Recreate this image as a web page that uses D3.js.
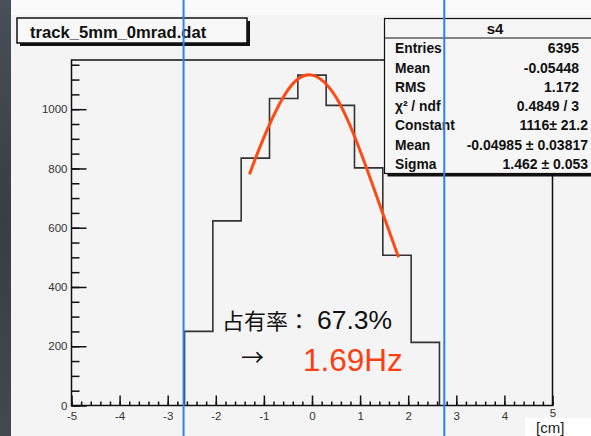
<!DOCTYPE html>
<html>
<head>
<meta charset="utf-8">
<script src="https://cdn.jsdelivr.net/npm/d3@7"></script>
<style>
    body { margin: 0; background: #f4f4f4; overflow: hidden; }
    svg { display: block; }
</style>
</head>
<body>
<script>
    // Histogram data (bin edges from -2.65 to 2.65, 9 bins)
    var binLow = -2.65, binHigh = 2.65;
    var binCounts = [250, 623, 835, 1036, 1115, 1013, 802, 507, 213];

    // Fit curve points
    var fitX = [-1.3, -1.0, -0.5, 0, 0.5, 1.0, 1.5, 1.8];
    var fitY = [780, 905, 1065, 1115, 1040, 860, 635, 500];

    // Vertical marker lines
    var markerX = [-2.67, 2.75];

    // Tick values
    var xTicks = [-5, -4, -3, -2, -1, 0, 1, 2, 3, 4, 5];
    var yTicks = [0, 200, 400, 600, 800, 1000];

    // Stats box rows
    var statLabels = ['Entries', 'Mean', 'RMS', 'χ² / ndf', 'Constant', 'Mean', 'Sigma'];
    var statValues = ['6395', '-0.05448', '1.172', '0.4849 / 3', '1116± 21.2', '-0.04985 ± 0.03817', '1.462 ± 0.053'];

    var width = 591, height = 436;
    var frameLeft = 71.5, frameRight = 552.5, frameTop = 60, frameBottom = 405.5;
    var sans = '"Liberation Sans", Arial, sans-serif';

    var svg = d3.select('body')
        .append('svg')
        .attr('width', width)
        .attr('height', height);

    // Background
    svg.append('rect').attr('width', width).attr('height', height).attr('fill', '#f4f4f4');
    svg.append('rect').attr('x', 11).attr('width', width).attr('height', 15).attr('fill', '#fafafa');
    var grad = svg.append('defs').append('linearGradient').attr('id', 'strip')
        .attr('x1', 0).attr('y1', 0).attr('x2', 0).attr('y2', 1);
    grad.append('stop').attr('offset', 0).attr('stop-color', '#4a4e56');
    grad.append('stop').attr('offset', 0.5).attr('stop-color', '#3a3d44');
    grad.append('stop').attr('offset', 1).attr('stop-color', '#44474e');
    svg.append('rect').attr('width', 11).attr('height', height).attr('fill', 'url(#strip)');

    var x = d3.scaleLinear().domain([-5, 5]).range([frameLeft, frameRight]);
    var y = d3.scaleLinear().domain([0, 1166]).range([frameBottom, frameTop]);

    // Frame
    svg.append('rect')
        .attr('x', frameLeft).attr('y', frameTop)
        .attr('width', frameRight - frameLeft).attr('height', frameBottom - frameTop)
        .attr('fill', 'none').attr('stroke', '#111').attr('stroke-width', 1.5);

    // Histogram outline
    var binWidth = (binHigh - binLow) / binCounts.length;
    var histPts = [[binLow, 0]];
    binCounts.forEach(function (c, i) {
        histPts.push([binLow + i * binWidth, c]);
        histPts.push([binLow + (i + 1) * binWidth, c]);
    });
    histPts.push([binHigh, 0]);
    svg.append('path')
        .datum(histPts)
        .attr('d', d3.line().x(function (d) { return x(d[0]); }).y(function (d) { return y(d[1]); }))
        .attr('fill', 'none').attr('stroke', '#333').attr('stroke-width', 1.6);

    // Fit curve
    svg.append('path')
        .datum(d3.zip(fitX, fitY))
        .attr('d', d3.line().curve(d3.curveNatural)
            .x(function (d) { return x(d[0]); }).y(function (d) { return y(d[1]); }))
        .attr('fill', 'none').attr('stroke', '#ff4a14').attr('stroke-width', 3);

    // X axis major and minor ticks
    svg.append('g')
        .attr('transform', 'translate(0,' + frameBottom + ')')
        .call(d3.axisBottom(x).tickValues(d3.range(-5, 5.001, 0.2)).tickSize(-4).tickFormat(''))
        .call(function (g) { g.select('.domain').remove(); });
    var xAxis = svg.append('g')
        .attr('transform', 'translate(0,' + frameBottom + ')')
        .call(d3.axisBottom(x).tickValues(xTicks).tickSize(-10).tickPadding(6)
            .tickFormat(function (d) { return String(d); }));
    xAxis.select('.domain').remove();
    // last label sits a little higher, above the unit box
    xAxis.selectAll('.tick text').filter(function (d) { return d === 5; }).attr('y', 3);

    // Y axis major and minor ticks
    svg.append('g')
        .attr('transform', 'translate(' + frameLeft + ',0)')
        .call(d3.axisLeft(y).tickValues(d3.range(0, 1151, 50)).tickSize(-8).tickFormat(''))
        .call(function (g) { g.select('.domain').remove(); });
    var yAxis = svg.append('g')
        .attr('transform', 'translate(' + frameLeft + ',0)')
        .call(d3.axisLeft(y).tickValues(yTicks).tickSize(-15).tickPadding(4)
            .tickFormat(function (d) { return String(d); }));
    yAxis.select('.domain').remove();

    svg.selectAll('.tick line').attr('stroke', '#111').attr('stroke-width', 1.5);
    svg.selectAll('.tick text')
        .attr('fill', '#333')
        .style('font-family', sans)
        .style('font-size', '11.5px');

    // Title box
    svg.append('rect').attr('x', 20).attr('y', 21).attr('width', 230).attr('height', 25).attr('fill', '#111');
    svg.append('rect').attr('x', 17).attr('y', 18).attr('width', 230).attr('height', 25)
        .attr('fill', '#f8f8f8').attr('stroke', '#111').attr('stroke-width', 1.5);
    svg.append('text').attr('x', 30).attr('y', 37.5)
        .style('font-family', sans)
        .style('font-weight', 'bold').style('font-size', '16.6px')
        .attr('fill', '#111')
        .text('track_5mm_0mrad.dat');

    // Stats box
    var boxX = 384.5, boxY = 18.5, boxW = 230, boxH = 155;
    svg.append('rect').attr('x', boxX + 3).attr('y', boxY + 3).attr('width', boxW).attr('height', boxH).attr('fill', '#111');
    svg.append('rect').attr('x', boxX).attr('y', boxY).attr('width', boxW).attr('height', boxH)
        .attr('fill', '#f6f6f6').attr('stroke', '#111').attr('stroke-width', 1.2);
    svg.append('line').attr('x1', boxX).attr('x2', boxX + boxW).attr('y1', 38).attr('y2', 38)
        .attr('stroke', '#111').attr('stroke-width', 1.2);
    svg.append('text').attr('x', 495).attr('y', 33.5).attr('text-anchor', 'middle')
        .style('font-family', sans)
        .style('font-weight', 'bold').style('font-size', '15px').attr('fill', '#111')
        .text('s4');

    var rowY = d3.scaleLinear().domain([0, 6]).range([53.3, 169]);
    svg.selectAll('.statLabel')
        .data(statLabels)
        .enter()
        .append('text')
        .attr('class', 'statLabel')
        .attr('x', 395)
        .attr('y', function (d, i) { return rowY(i); })
        .style('font-family', sans)
        .style('font-weight', 'bold').style('font-size', '13.8px').attr('fill', '#111')
        .text(function (d) { return d; });
    svg.selectAll('.statValue')
        .data(statValues)
        .enter()
        .append('text')
        .attr('class', 'statValue')
        .attr('x', function (d, i) { return i < 4 ? 579 : 588; })
        .attr('y', function (d, i) { return rowY(i); })
        .attr('text-anchor', 'end')
        .style('font-family', sans)
        .style('font-weight', 'bold').style('font-size', '14px').attr('fill', '#111')
        .text(function (d) { return d; });

    // Annotation text
    var occ = svg.append('text').attr('x', 222).attr('y', 329).attr('fill', '#111');
    occ.append('tspan')
        .style('font-family', '"Noto Sans CJK JP", sans-serif')
        .style('font-size', '22px')
        .text('占有率：');
    occ.append('tspan').attr('x', 317)
        .style('font-family', sans)
        .style('font-size', '26.5px')
        .text('67.3%');
    svg.append('text').attr('x', 241).attr('y', 366)
        .style('font-family', '"Noto Sans CJK JP", sans-serif')
        .style('font-size', '23px').attr('fill', '#111')
        .text('→');
    svg.append('text').attr('x', 303).attr('y', 371)
        .style('font-family', sans)
        .style('font-size', '31.5px').attr('fill', '#ff3d12')
        .text('1.69Hz');

    // Unit box
    svg.append('rect').attr('x', 525).attr('y', 418).attr('width', 66).attr('height', 18).attr('fill', '#fff');
    svg.append('text').attr('x', 536).attr('y', 433)
        .style('font-family', sans)
        .style('font-size', '15px').attr('fill', '#222')
        .text('[cm]');

    // Blue marker lines on top
    svg.selectAll('.marker')
        .data(markerX)
        .enter()
        .append('line')
        .attr('class', 'marker')
        .attr('x1', function (d) { return x(d); })
        .attr('x2', function (d) { return x(d); })
        .attr('y1', 0).attr('y2', height)
        .attr('stroke', '#2f80f0').attr('stroke-width', 2);
</script>
</body>
</html>
